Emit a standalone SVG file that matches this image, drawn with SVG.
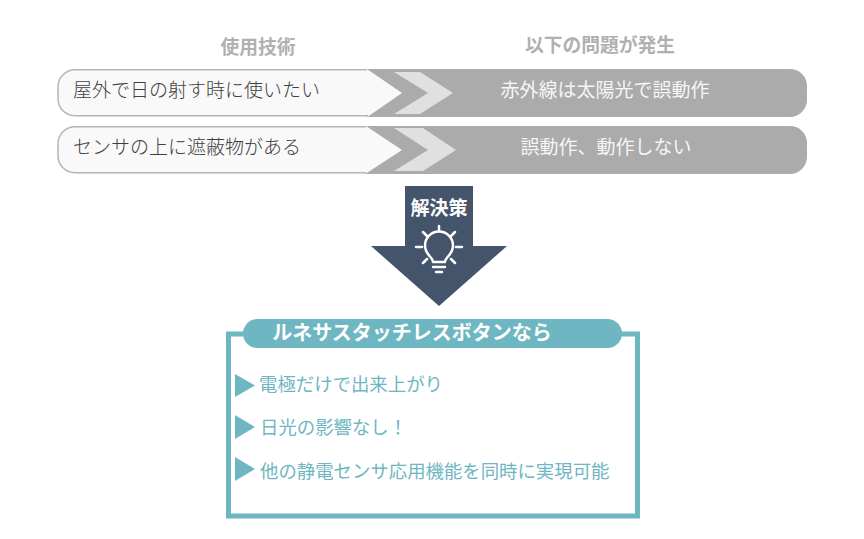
<svg xmlns="http://www.w3.org/2000/svg" width="864" height="539" viewBox="0 0 864 539">
<style>
text{font-family:"Noto Sans CJK JP","Liberation Sans",sans-serif}
.h{font-size:18.800px;font-weight:700;fill:#b0b0b0;text-anchor:middle}
.l{font-size:19px;fill:#404040;font-weight:300}
.r{font-size:19px;fill:#f6f6f6;text-anchor:middle;font-weight:400}
.t{font-size:18.400px;fill:#6fb6c3;font-weight:400}
.bar{fill:#ababab}
.pill{fill:#f9f9f9}
.edge{fill:none;stroke:#b5b5b5;stroke-width:1.5}
.chev{fill:#e0e0e0}
.tri{fill:#6fb6c3}
.bulb{fill:none;stroke:#fff;stroke-width:2.500;stroke-linecap:round;stroke-linejoin:round}
</style>
<rect width="864" height="539" fill="#fff"/>
<g id="header-left"><text class="h" x="258" y="54">使用技術</text></g>
<g id="header-right"><text class="h" x="600" y="52">以下の問題が発生</text></g>
<g id="row1-right"><path class="bar" d="M366 69H790A17 17 0 0 1 807 86V100A17 17 0 0 1 790 117H366Z"/><path class="chev" d="M394 72H420L453 93L420 114H394L428 93Z"/><text class="r" x="605" y="97">赤外線は太陽光で誤動作</text></g>
<g id="row1-left"><path class="pill" d="M75 69H367L402 93L368 116.500H75A17 17 0 0 1 58 99.500V86A17 17 0 0 1 75 69Z"/><path class="edge" d="M367 69.700H75A17 17 0 0 0 58 86.700V98.700A17 17 0 0 0 75 115.700H368"/><text class="l" x="73" y="97">屋外で日の射す時に使いたい</text></g>
<g id="row2-right"><path class="bar" d="M365 126H790A17 17 0 0 1 807 143V157A17 17 0 0 1 790 174H365Z"/><path class="chev" d="M394 128H423L456 150L423 171H394L428 150Z"/><text class="r" x="606" y="154">誤動作、動作しない</text></g>
<g id="row2-left"><path class="pill" d="M75 126H366L402 150L366 173.500H75A17 17 0 0 1 58 156.500V143A17 17 0 0 1 75 126Z"/><path class="edge" d="M366 126.700H75A17 17 0 0 0 58 143.700V155.700A17 17 0 0 0 75 172.700H366"/><text class="l" x="73" y="154">センサの上に遮蔽物がある</text></g>
<g id="solution-arrow"><path fill="#44546a" d="M405 186H473V246H507L439 306L371 246H405Z"/><text x="439" y="215" text-anchor="middle" font-size="19" font-weight="700" fill="#fff">解決策</text>
<g class="bulb"><path d="M433 262C433 257 425 255 425 245.500A14 14 0 0 1 453 245.500C453 255 445 257 445 262Z"/><path d="M433 267H445M436 272H442M439 226V231M423 232L427 236M455 232L451 236M416 247H422M456 247H462M423 263L427 259M455 263L451 259"/></g></g>
<g id="result-box"><rect x="228.500" y="334" width="409" height="182" fill="#fff" stroke="#6fb6c3" stroke-width="5"/><rect x="243" y="319" width="379" height="29" rx="14.500" fill="#6fb6c3"/><text x="412" y="340" text-anchor="middle" font-size="20" font-weight="700" fill="#fff">ルネサスタッチレスボタンなら</text>
<path class="tri" d="M235 374L255 385.500L235 397ZM235 415L255 427L235 439ZM235 457L255 469L235 481Z"/>
<text class="t" x="259" y="391">電極だけで出来上がり</text><text class="t" x="260" y="434">日光の影響なし！</text><text class="t" x="260" y="478">他の静電センサ応用機能を同時に実現可能</text></g>
</svg>
